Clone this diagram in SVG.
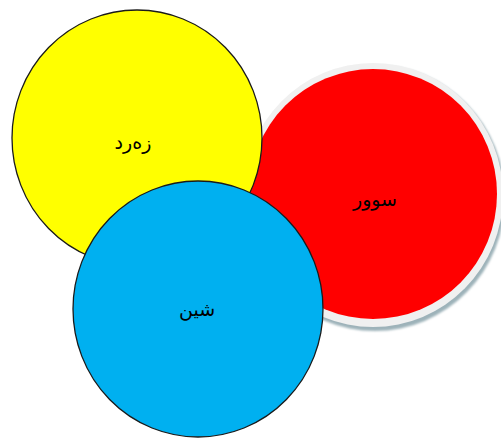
<svg xmlns="http://www.w3.org/2000/svg" width="501" height="440" viewBox="0 0 501 440">
<defs>
<filter id="blur" x="-10%" y="-10%" width="120%" height="120%"><feGaussianBlur stdDeviation="1"/></filter>
</defs>
<style>
.lbl{font-family:"DejaVu Sans",sans-serif;font-size:19px;fill:#000;text-anchor:middle}
.stk{stroke:#1a1a1a;stroke-width:1.3}
</style>
<rect width="501" height="440" fill="#fff"/>
<g id="red">
<ellipse cx="375" cy="198" rx="130" ry="133" fill="#9db2b9" filter="url(#blur)"/>
<ellipse cx="373" cy="195" rx="130" ry="132" fill="#f0f0f0"/>
<ellipse cx="373" cy="194" rx="124" ry="125" fill="#ff0000"/>
<text class="lbl" x="375" y="206" direction="rtl">سوور</text>
</g>
<g id="yellow">
<ellipse cx="137" cy="138" rx="125" ry="128" fill="#ffff00" class="stk"/>
<text class="lbl" x="133" y="149" direction="rtl">زەرد</text>
</g>
<g id="blue">
<ellipse cx="198" cy="309" rx="125" ry="128" fill="#00b0f0" class="stk"/>
<text class="lbl" x="197" y="316" direction="rtl">شین</text>
</g>
<g id="connectors"/>
</svg>
